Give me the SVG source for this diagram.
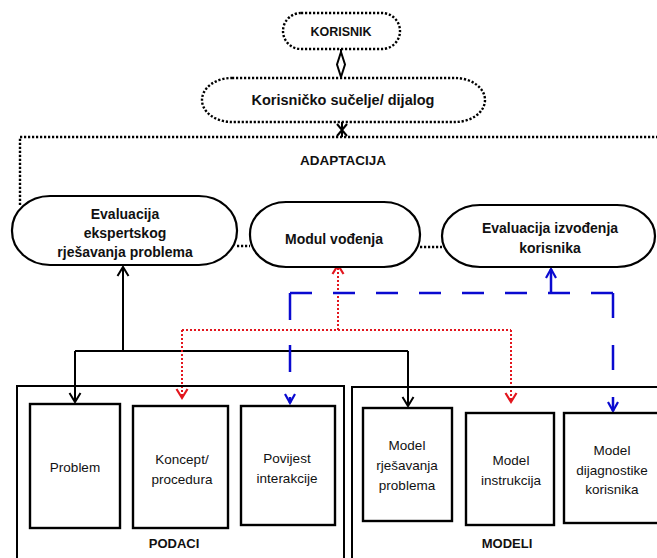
<svg xmlns="http://www.w3.org/2000/svg" width="657" height="558" viewBox="0 0 657 558">
  <style>
    text { font-family: "Liberation Sans", Arial, sans-serif; fill: #111; text-anchor: middle; }
    .b { font-weight: bold; }
    .lbl { font-size: 13.5px; }
    .pill { fill: #fff; stroke: #000; stroke-width: 2.2; }
    .dotpill { fill: #fff; stroke: #000; stroke-width: 2.4; stroke-dasharray: 2.2 1.8; }
    .box { fill: #fff; stroke: #000; stroke-width: 2.4; }
    .frame { fill: none; stroke: #000; stroke-width: 2; }
    .dotline { fill: none; stroke: #000; stroke-width: 2.4; stroke-dasharray: 2.2 1.8; }
    .blk { fill: none; stroke: #000; stroke-width: 2; }
    .red { fill: none; stroke: #e3161e; stroke-width: 2; stroke-dasharray: 2 2; }
    .blue { fill: none; stroke: #0a0ad0; stroke-width: 2.5; }
  </style>
  <defs>
    <marker id="arrBlack" markerUnits="userSpaceOnUse" markerWidth="14" markerHeight="14" viewBox="-10 -7 12 14" refX="0" refY="0" orient="auto">
      <path d="M-9,-5.5 L0,0 L-9,5.5" fill="none" stroke="#000" stroke-width="2"/>
    </marker>
    <marker id="arrRed" markerUnits="userSpaceOnUse" markerWidth="14" markerHeight="14" viewBox="-10 -7 12 14" refX="0" refY="0" orient="auto">
      <path d="M-9,-5.5 L0,0 L-9,5.5" fill="none" stroke="#e3161e" stroke-width="2.2"/>
    </marker>
    <marker id="arrBlue" markerUnits="userSpaceOnUse" markerWidth="14" markerHeight="14" viewBox="-10 -7 12 14" refX="0" refY="0" orient="auto">
      <path d="M-9,-5 L0,0 L-9,5" fill="none" stroke="#0a0ad0" stroke-width="2.2"/>
    </marker>
  </defs>

  <!-- adaptation frame and link lines -->
  <g id="connectors">
    <path class="dotline" d="M20,205 V137 H657"/>
    <path class="dotline" d="M237,246 H250"/>
    <path class="dotline" d="M420,247 H442"/>
    <!-- user to interface -->
    <path class="blk" d="M341,49 V52"/>
    <polygon points="341,52 345,64.5 341,77 337,64.5" fill="#fff" stroke="#000" stroke-width="2"/>
    <!-- interface to adaptation -->
    <path class="blk" d="M342,122 V137 M337,124 L347,136 M347,124 L337,136"/>
    <!-- data / models to expert evaluation -->
    <path class="blk" d="M123,351 V267" marker-end="url(#arrBlack)"/>
    <path class="blk" d="M75,351 H408"/>
    <path class="blk" d="M75,351 V402" marker-end="url(#arrBlack)"/>
    <path class="blk" d="M408,351 V406" marker-end="url(#arrBlack)"/>
    <!-- tutoring module links -->
    <path class="red" d="M182,330 H511"/>
    <path class="red" d="M338,330 V265" marker-end="url(#arrRed)"/>
    <path class="red" d="M182,330 V398" marker-end="url(#arrRed)"/>
    <path class="red" d="M511,330 V402" marker-end="url(#arrRed)"/>
    <!-- learner performance links -->
    <path class="blue" d="M290,293 H613" stroke-dasharray="22 21"/>
    <path class="blue" d="M290,293 V403" stroke-dasharray="27 25" marker-end="url(#arrBlue)"/>
    <path class="blue" d="M613,293 V411" stroke-dasharray="25 27" marker-end="url(#arrBlue)"/>
    <path class="blue" d="M551,293 V269" marker-end="url(#arrBlue)"/>
  </g>

  <g id="korisnik">
    <rect class="dotpill" x="283" y="13" width="117" height="36" rx="18" ry="18"/>
    <text class="b" x="341" y="35.5" font-size="12.5">KORISNIK</text>
  </g>

  <g id="sucelje">
    <rect class="dotpill" x="202" y="78" width="283" height="44" rx="30" ry="22"/>
    <text class="b" x="343" y="105" font-size="14.5">Korisničko sučelje/ dijalog</text>
  </g>

  <g id="adaptacija">
    <text class="b" x="343" y="165" font-size="13.5">ADAPTACIJA</text>
  </g>

  <g id="evaluacija-ekspertskog">
    <rect class="pill" x="12" y="196" width="225" height="69" rx="38" ry="34"/>
    <text class="b" font-size="14" x="125" y="219">Evaluacija</text>
    <text class="b" font-size="14" x="125" y="238">ekspertskog</text>
    <text class="b" font-size="14" x="125" y="257">rješavanja problema</text>
  </g>

  <g id="modul-vodjenja">
    <rect class="pill" x="250" y="202" width="170" height="65" rx="36" ry="32"/>
    <text class="b" font-size="14" x="334" y="244">Modul vođenja</text>
  </g>

  <g id="evaluacija-izvodjenja">
    <rect class="pill" x="442" y="205" width="213" height="62" rx="38" ry="31"/>
    <text class="b" font-size="14" x="550" y="233">Evaluacija izvođenja</text>
    <text class="b" font-size="14" x="550" y="253">korisnika</text>
  </g>

  <g id="podaci">
    <rect class="frame" x="17" y="386" width="327" height="200"/>
    <text class="b" font-size="13" x="174" y="548">PODACI</text>
  </g>

  <g id="problem">
    <rect class="box" x="30" y="404" width="90" height="124"/>
    <text class="lbl" x="75" y="472">Problem</text>
  </g>

  <g id="koncept">
    <rect class="box" x="133" y="406" width="95" height="122"/>
    <text class="lbl" x="182" y="464">Koncept/</text>
    <text class="lbl" x="182" y="484">procedura</text>
  </g>

  <g id="povijest">
    <rect class="box" x="241" y="406" width="94" height="119"/>
    <text class="lbl" x="287" y="463">Povijest</text>
    <text class="lbl" x="287" y="483">interakcije</text>
  </g>

  <g id="modeli">
    <rect class="frame" x="352" y="387" width="320" height="200"/>
    <text class="b" font-size="13" x="507" y="548">MODELI</text>
  </g>

  <g id="model-rjesavanja">
    <rect class="box" x="363" y="408" width="89" height="113"/>
    <text class="lbl" x="407" y="450">Model</text>
    <text class="lbl" x="407" y="470">rješavanja</text>
    <text class="lbl" x="407" y="490">problema</text>
  </g>

  <g id="model-instrukcija">
    <rect class="box" x="466" y="413" width="88" height="112"/>
    <text class="lbl" x="511" y="465">Model</text>
    <text class="lbl" x="511" y="485">instrukcija</text>
  </g>

  <g id="model-dijagnostike">
    <rect class="box" x="564" y="413" width="100" height="110"/>
    <text class="lbl" x="612" y="455">Model</text>
    <text class="lbl" x="612" y="475">dijagnostike</text>
    <text class="lbl" x="612" y="494">korisnika</text>
  </g>
</svg>
